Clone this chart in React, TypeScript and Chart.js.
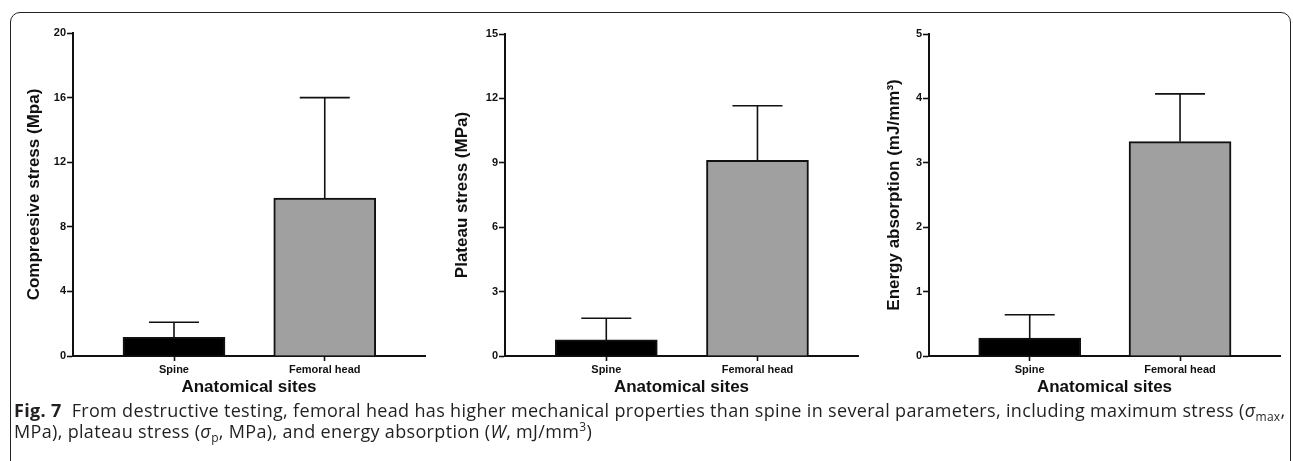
import React, { useEffect, useRef } from "react";
import { Chart, registerables } from "chart.js";

Chart.register(...registerables);

const categories = ["Spine", "Femoral head"];
const compressiveMeans = [1.16, 9.78];
const compressiveSD = [0.93, 6.22];
const plateauMeans = [0.75, 9.11];
const plateauSD = [1.01, 2.55];
const energyMeans = [0.28, 3.33];
const energySD = [0.36, 0.74];

const compressiveTicks = [0, 4, 8, 12, 16, 20];
const plateauTicks = [0, 3, 6, 9, 12, 15];
const energyTicks = [0, 1, 2, 3, 4, 5];

const barColors = ["#000000", "#a0a0a0"];

const errorBarPlugin = {
  id: "errorBars",
  afterDatasetsDraw(chart: any) {
    const sd: number[] = chart.options.plugins.errorBars?.sd || [];
    const cap: number = chart.options.plugins.errorBars?.cap || 50;
    const meta = chart.getDatasetMeta(0);
    const ds = chart.data.datasets[0];
    const ys = chart.scales.y;
    const ctx = chart.ctx;
    ctx.save();
    ctx.strokeStyle = "#111";
    ctx.lineWidth = 1.6;
    meta.data.forEach((bar: any, i: number) => {
      const v = ds.data[i].y;
      const yTop = ys.getPixelForValue(v + sd[i]);
      const yBase = ys.getPixelForValue(v);
      const x = bar.x;
      ctx.beginPath();
      ctx.moveTo(x, yBase);
      ctx.lineTo(x, yTop);
      ctx.moveTo(x - cap / 2, yTop);
      ctx.lineTo(x + cap / 2, yTop);
      ctx.stroke();
    });
    ctx.restore();
  },
};

type PanelProps = {
  left: number;
  width: number;
  padLeft: number;
  padRight: number;
  padTop: number;
  yWidth: number;
  yTitle: string;
  means: number[];
  sd: number[];
  ticks: number[];
};

const CANVAS_H = 405;

function Panel(p: PanelProps) {
  const ref = useRef<HTMLCanvasElement>(null);
  useEffect(() => {
    if (!ref.current) return;
    const tickFont = { family: "'Liberation Sans', Arial, sans-serif", size: 11, weight: "bold" as const };
    const titleFont = { family: "'Liberation Sans', Arial, sans-serif", size: 17, weight: "bold" as const };
    const chart = new Chart(ref.current, {
      type: "bar",
      data: {
        datasets: [
          {
            data: p.means.map((m, i) => ({ x: i + 1, y: m })),
            backgroundColor: barColors,
            borderColor: "#111",
            borderWidth: 2,
            barThickness: 102,
          },
        ],
      },
      options: {
        animation: false,
        responsive: false,
        maintainAspectRatio: false,
        layout: { padding: { left: p.padLeft, right: p.padRight, top: p.padTop, bottom: 5 } },
        plugins: {
          legend: { display: false },
          tooltip: { enabled: false },
          errorBars: { sd: p.sd, cap: 50 },
        } as any,
        scales: {
          x: {
            type: "linear",
            min: 0.33,
            max: 2.665,
            offset: false,
            afterBuildTicks: (s: any) => {
              s.ticks = categories.map((_, i) => ({ value: i + 1 }));
            },
            afterFit: (s: any) => {
              s.height = 44;
            },
            ticks: {
              font: tickFont,
              color: "#111",
              padding: 2,
              maxRotation: 0,
              autoSkip: false,
              callback: (v: any) => categories[Math.round(Number(v)) - 1] ?? "",
            },
            grid: { offset: false, drawOnChartArea: false, tickLength: 5, tickColor: "#111", tickWidth: 1.6 },
            border: { display: true, color: "#111", width: 2 },
            title: {
              display: true,
              text: "Anatomical sites",
              font: titleFont,
              color: "#111",
              padding: { top: 0, bottom: 2 },
            },
          },
          y: {
            type: "linear",
            min: p.ticks[0],
            max: p.ticks[p.ticks.length - 1],
            afterBuildTicks: (s: any) => {
              s.ticks = p.ticks.map((v) => ({ value: v }));
            },
            afterFit: (s: any) => {
              s.width = p.yWidth;
            },
            ticks: { font: tickFont, color: "#111", padding: 1 },
            grid: { drawOnChartArea: false, tickLength: 6, tickColor: "#111", tickWidth: 1.6 },
            border: { display: true, color: "#111", width: 2 },
            title: {
              display: true,
              text: p.yTitle,
              font: titleFont,
              color: "#111",
              padding: { top: 12, bottom: 0 },
            },
          },
        },
      },
      plugins: [errorBarPlugin],
    });
    return () => chart.destroy();
  }, []);
  return (
    <canvas
      ref={ref}
      width={p.width}
      height={CANVAS_H}
      style={{ position: "absolute", left: p.left, top: 0, width: p.width, height: CANVAS_H }}
    />
  );
}

const subStyle: React.CSSProperties = { fontSize: 12, position: "relative", top: 4, lineHeight: 0 };
const supStyle: React.CSSProperties = { fontSize: 12, position: "relative", top: -7, lineHeight: 0 };

export default function App() {
  return (
    <div style={{ position: "absolute", left: 0, top: 0, width: 1293, height: 461, overflow: "hidden", background: "#fff" }}>
      <div
        style={{
          position: "absolute",
          left: 10,
          top: 12,
          width: 1281,
          height: 480,
          border: "1.5px solid #222",
          borderRadius: 10,
          boxSizing: "border-box",
        }}
      />
      <Panel left={12} width={418} padLeft={0} padRight={5} padTop={33} yWidth={61}
        yTitle="Compreesive stress (Mpa)" means={compressiveMeans} sd={compressiveSD} ticks={compressiveTicks} />
      <Panel left={432} width={430} padLeft={8} padRight={4} padTop={34} yWidth={65}
        yTitle="Plateau stress (MPa)" means={plateauMeans} sd={plateauSD} ticks={plateauTicks} />
      <Panel left={864} width={426} padLeft={8} padRight={10} padTop={34} yWidth={57}
        yTitle="Energy absorption (mJ/mm³)" means={energyMeans} sd={energySD} ticks={energyTicks} />
      <div
        style={{
          position: "absolute",
          left: 14,
          top: 400,
          fontFamily: "'Open Sans', 'Noto Sans', sans-serif",
          fontSize: 18,
          letterSpacing: "0.33px",
          lineHeight: "21px",
          color: "#231f20",
          whiteSpace: "nowrap",
        }}
      >
        <b>Fig. 7</b>&nbsp;&nbsp;From destructive testing, femoral head has higher mechanical properties than spine in several parameters, including maximum stress (<i>σ</i>
        <span style={subStyle}>max</span>,
        <br />
        MPa), plateau stress (<i>σ</i>
        <span style={subStyle}>p</span>, MPa), and energy absorption (<i>W</i>, mJ/mm<span style={supStyle}>3</span>)
      </div>
    </div>
  );
}
